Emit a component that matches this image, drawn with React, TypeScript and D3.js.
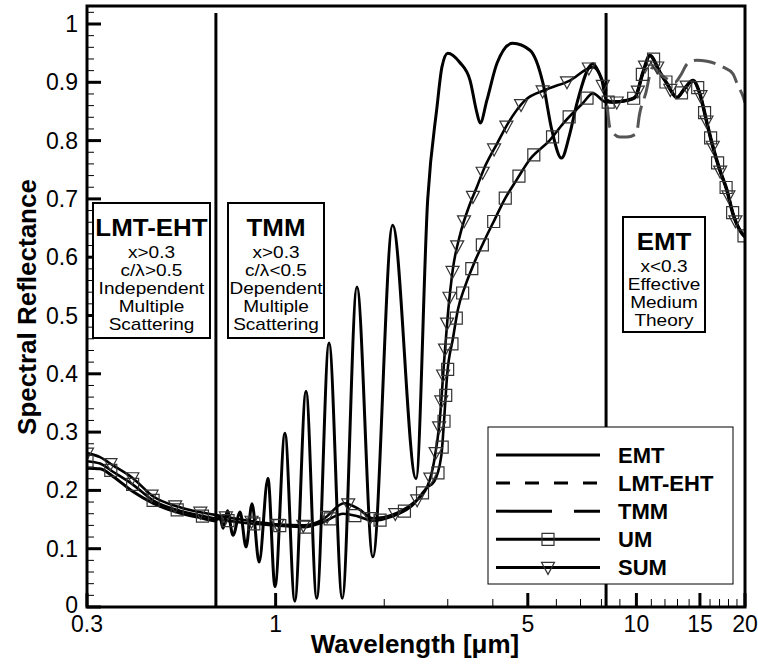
import React, { useEffect, useRef } from "react";
import * as d3 from "d3";

const W = 758;
const H = 668;

// axis ticks
const xMajorTicks = [0.3, 1, 5, 10, 15, 20];
const xMajorLabels = ["0.3", "1", "5", "10", "15", "20"];
const xMinorTicks = [2, 3, 4, 6, 7, 8, 9, 11, 12, 13, 14, 16, 17, 18, 19];
const yMajorTicks = [0, 0.1, 0.2, 0.3, 0.4, 0.5, 0.6, 0.7, 0.8, 0.9, 1];
const yMajorLabels = ["0", "0.1", "0.2", "0.3", "0.4", "0.5", "0.6", "0.7", "0.8", "0.9", "1"];
const yMinorTicks = d3.range(0, 51).map((i) => i * 0.02).filter((v) => Math.abs(v * 10 - Math.round(v * 10)) > 1e-6).concat([1.02]);

// regime boundaries (wavelength, um)
const regimeBounds = [0.683, 8.24];

// TMM (oscillating)
const tmmWl = [0.3, 0.326, 0.354, 0.402, 0.457, 0.543, 0.62, 0.68, 0.70, 0.715, 0.735, 0.762, 0.797, 0.828, 0.86, 0.9, 0.952, 0.996, 1.061, 1.13, 1.214, 1.3, 1.406, 1.53, 1.68, 1.86, 2.11, 2.45, 2.64, 2.8, 2.89, 3.0, 3.24, 3.46, 3.6, 3.69, 3.85, 4.11, 4.54, 5.07, 5.51, 5.83, 6.2, 6.54, 6.84, 7.58, 7.9, 8.24];
const tmmR = [0.238, 0.237, 0.224, 0.198, 0.178, 0.161, 0.153, 0.148, 0.155, 0.135, 0.165, 0.123, 0.163, 0.103, 0.177, 0.077, 0.221, 0.035, 0.298, 0.01, 0.37, 0.015, 0.453, 0.015, 0.549, 0.086, 0.655, 0.22, 0.70, 0.857, 0.926, 0.95, 0.934, 0.903, 0.852, 0.83, 0.869, 0.933, 0.967, 0.955, 0.898, 0.818, 0.77, 0.812, 0.864, 0.932, 0.915, 0.885];

// EMT (long-wavelength region)
const emtWl = [8.24, 8.61, 9.41, 9.91, 10.43, 10.9, 11.62, 12.15, 12.95, 13.63, 14.35, 15.0, 15.69, 16.3, 17.04, 17.82, 18.51, 19.6, 20];
const emtR = [0.869, 0.866, 0.869, 0.874, 0.917, 0.946, 0.917, 0.898, 0.874, 0.89, 0.903, 0.88, 0.83, 0.789, 0.749, 0.715, 0.675, 0.641, 0.635];

// LMT-EHT (gray dashed, long-wavelength region)
const lmtWl = [8.3, 8.45, 9.0, 9.41, 10.0, 10.2, 10.6, 11.1, 11.6, 12.4, 12.8, 13.2, 13.9, 14.7, 15.7, 17.4, 18.5, 19.1, 19.8, 20];
const lmtR = [0.86, 0.822, 0.806, 0.806, 0.812, 0.845, 0.88, 0.926, 0.915, 0.903, 0.9, 0.91, 0.933, 0.938, 0.936, 0.926, 0.915, 0.895, 0.874, 0.865];

// UM (squares)
const umWl = [0.3, 0.326, 0.354, 0.402, 0.457, 0.543, 0.68, 0.8, 1.0, 1.2, 1.35, 1.54, 1.7, 1.86, 2.1, 2.4, 2.63, 2.75, 2.88, 2.93, 2.99, 3.1, 3.2, 3.35, 3.55, 3.8, 4.05, 4.32, 4.67, 5.07, 5.74, 6.28, 7.1, 7.58, 8.24, 8.61, 9.41, 9.91, 10.43, 10.9, 11.62, 12.15, 12.95, 13.63, 14.35, 15.0, 15.69, 16.3, 17.04, 17.82, 18.51, 19.6, 20];
const umR = [0.25, 0.246, 0.232, 0.21, 0.183, 0.165, 0.152, 0.145, 0.14, 0.137, 0.145, 0.16, 0.155, 0.148, 0.155, 0.175, 0.205, 0.215, 0.26, 0.32, 0.40, 0.46, 0.51, 0.55, 0.59, 0.63, 0.665, 0.70, 0.734, 0.768, 0.80, 0.83, 0.864, 0.881, 0.866, 0.866, 0.869, 0.874, 0.917, 0.946, 0.917, 0.898, 0.874, 0.89, 0.903, 0.88, 0.83, 0.789, 0.749, 0.715, 0.675, 0.641, 0.635];

// SUM (triangles)
const sumWl = [0.3, 0.326, 0.354, 0.402, 0.457, 0.543, 0.68, 0.8, 1.0, 1.2, 1.35, 1.55, 1.7, 1.86, 2.1, 2.4, 2.63, 2.75, 2.85, 2.93, 3.0, 3.1, 3.25, 3.45, 3.61, 3.82, 4.11, 4.41, 4.91, 5.65, 6.54, 7.58, 8.0, 8.24, 8.61, 9.41, 9.91, 10.43, 10.9, 11.62, 12.15, 12.95, 13.63, 14.35, 15.0, 15.69, 16.3, 17.04, 17.82, 18.51, 19.6, 20];
const sumR = [0.264, 0.257, 0.243, 0.221, 0.19, 0.171, 0.158, 0.15, 0.142, 0.14, 0.15, 0.178, 0.168, 0.152, 0.158, 0.178, 0.206, 0.25, 0.32, 0.42, 0.5, 0.58, 0.64, 0.69, 0.72, 0.758, 0.795, 0.83, 0.869, 0.888, 0.903, 0.926, 0.905, 0.87, 0.866, 0.869, 0.874, 0.917, 0.946, 0.917, 0.898, 0.874, 0.89, 0.903, 0.88, 0.83, 0.789, 0.749, 0.715, 0.675, 0.641, 0.635];

const legendNames = ["EMT", "LMT-EHT", "TMM", "UM", "SUM"];

const boxLMT = ["x>0.3", "c/\u03bb>0.5", "Independent", "Multiple", "Scattering"];
const boxTMM = ["x>0.3", "c/\u03bb<0.5", "Dependent", "Multiple", "Scattering"];
const boxEMT = ["x<0.3", "Effective", "Medium", "Theory"];

const FONT = "'Liberation Sans', Arial, Helvetica, sans-serif";

function zip(a: number[], b: number[]): [number, number][] {
  return a.map((v, i) => [v, b[i]] as [number, number]);
}

export default function App() {
  const ref = useRef<SVGSVGElement>(null);

  useEffect(() => {
    const svg = d3.select(ref.current);
    svg.selectAll("*").remove();

    const L = 87, R = 745, T = 6, B = 607;
    const x = d3.scaleLog().domain([0.3, 20]).range([L, R]);
    const y = d3.scaleLinear().domain([0, 1]).range([B, 24]);

    svg.append("rect").attr("width", W).attr("height", H).attr("fill", "#fff");

    svg.append("defs").append("clipPath").attr("id", "plotclip")
      .append("rect").attr("x", L).attr("y", T).attr("width", R - L).attr("height", B - T);

    // ticks
    const g = svg.append("g");
    g.selectAll(".ymaj").data(yMajorTicks).enter().append("line")
      .attr("x1", L).attr("x2", L + 14).attr("y1", (d) => y(d)).attr("y2", (d) => y(d))
      .attr("stroke", "#000").attr("stroke-width", 3);
    g.selectAll(".ymin").data(yMinorTicks).enter().append("line")
      .attr("x1", L).attr("x2", L + 7).attr("y1", (d) => y(d)).attr("y2", (d) => y(d))
      .attr("stroke", "#000").attr("stroke-width", 1);
    g.selectAll(".xmaj").data(xMajorTicks).enter().append("line")
      .attr("x1", (d) => x(d)).attr("x2", (d) => x(d)).attr("y1", B).attr("y2", B - 14)
      .attr("stroke", "#000").attr("stroke-width", 3);
    g.selectAll(".xmin").data(xMinorTicks).enter().append("line")
      .attr("x1", (d) => x(d)).attr("x2", (d) => x(d)).attr("y1", B).attr("y2", B - 8)
      .attr("stroke", "#000").attr("stroke-width", 1);

    // tick labels
    g.selectAll(".ylab").data(yMajorTicks).enter().append("text")
      .attr("x", 78).attr("y", (d) => y(d) - (d === 0 ? 2 : 0)).attr("dy", "0.35em")
      .attr("text-anchor", "end").attr("font-family", FONT).attr("font-size", 23)
      .text((d, i) => yMajorLabels[i]);
    g.selectAll(".xlab").data(xMajorTicks).enter().append("text")
      .attr("x", (d) => x(d)).attr("y", 632)
      .attr("text-anchor", "middle").attr("font-family", FONT).attr("font-size", 23)
      .text((d, i) => xMajorLabels[i]);

    // axis titles
    svg.append("text").attr("x", 415).attr("y", 653).attr("text-anchor", "middle")
      .attr("font-family", FONT).attr("font-size", 26).attr("font-weight", "bold")
      .text("Wavelength [\u03bcm]");
    svg.append("text").attr("transform", "translate(36,307) rotate(-90)").attr("text-anchor", "middle")
      .attr("font-family", FONT).attr("font-size", 26).attr("font-weight", "bold")
      .text("Spectral Reflectance");

    // regime lines
    svg.selectAll(".reg").data(regimeBounds).enter().append("line")
      .attr("x1", (d) => x(d)).attr("x2", (d) => x(d)).attr("y1", 13).attr("y2", B)
      .attr("stroke", "#000").attr("stroke-width", 3);

    // text boxes
    const drawBox = (bx: number, by: number, bw: number, bh: number, title: string, lines: string[], titleY: number, firstY: number) => {
      const bg = svg.append("g");
      bg.append("rect").attr("x", bx).attr("y", by).attr("width", bw).attr("height", bh)
        .attr("fill", "#fff").attr("stroke", "#000").attr("stroke-width", 2);
      const cx = bx + bw / 2;
      bg.append("text").attr("transform", `translate(${cx},${titleY}) scale(1.08,1)`)
        .attr("text-anchor", "middle").attr("font-family", FONT).attr("font-size", 24)
        .attr("font-weight", "bold").text(title);
      bg.selectAll(".ln").data(lines).enter().append("text")
        .attr("transform", (d, i) => `translate(${cx},${firstY + i * 18}) scale(1.12,1)`)
        .attr("text-anchor", "middle").attr("font-family", FONT).attr("font-size", 17)
        .text((d) => d);
    };
    drawBox(93, 203, 117, 135, "LMT-EHT", boxLMT, 236, 258);
    drawBox(228, 203, 96, 135, "TMM", boxTMM, 236, 258);
    drawBox(623, 217, 82, 115, "EMT", boxEMT, 250, 272);

    // curves
    const line = d3.line<[number, number]>().x((d) => x(d[0])).y((d) => y(d[1])).curve(d3.curveMonotoneX);
    const cg = svg.append("g").attr("clip-path", "url(#plotclip)");

    cg.append("path").attr("d", line(zip(tmmWl, tmmR))).attr("fill", "none")
      .attr("stroke", "#000").attr("stroke-width", 3);
    const umPath = cg.append("path").attr("d", line(zip(umWl, umR))).attr("fill", "none")
      .attr("stroke", "#000").attr("stroke-width", 2.6);
    const sumPath = cg.append("path").attr("d", line(zip(sumWl, sumR))).attr("fill", "none")
      .attr("stroke", "#000").attr("stroke-width", 2.6);
    cg.append("path").attr("d", line(zip(emtWl, emtR))).attr("fill", "none")
      .attr("stroke", "#000").attr("stroke-width", 3.5);
    cg.append("path").attr("d", line(zip(lmtWl, lmtR))).attr("fill", "none")
      .attr("stroke", "#555").attr("stroke-width", 3).attr("stroke-dasharray", "22 8");

    const squarePath = "M-6,-6H6V6H-6Z";
    const triPath = "M-6.5,-5H6.5L0,7Z";
    const placeMarkers = (p: any, shape: string) => {
      const node = p.node() as SVGPathElement;
      const total = node.getTotalLength();
      const pts: { x: number; y: number }[] = [];
      for (let s = 0; s <= total; s += 26) {
        const pt = node.getPointAtLength(s);
        pts.push({ x: pt.x, y: pt.y });
      }
      cg.selectAll(null).data(pts).enter().append("path")
        .attr("d", shape).attr("transform", (d) => `translate(${d.x},${d.y})`)
        .attr("fill", "none").attr("stroke", "#333").attr("stroke-width", 1.2);
    };
    placeMarkers(umPath, squarePath);
    placeMarkers(sumPath, triPath);

    // frame
    svg.append("rect").attr("x", L).attr("y", T).attr("width", R - L).attr("height", B - T)
      .attr("fill", "none").attr("stroke", "#000").attr("stroke-width", 3);

    // legend
    const lg = svg.append("g");
    lg.append("rect").attr("x", 488).attr("y", 427).attr("width", 245).attr("height", 157)
      .attr("fill", "#fff").attr("stroke", "#000").attr("stroke-width", 1);
    const dashes = [null, "14 15", "56 22", null, null];
    legendNames.forEach((name, i) => {
      const ly = 455 + i * 28.1;
      lg.append("line").attr("x1", 496).attr("x2", 600).attr("y1", ly).attr("y2", ly)
        .attr("stroke", "#000").attr("stroke-width", 3)
        .attr("stroke-dasharray", dashes[i] ?? null);
      if (i === 3) lg.append("path").attr("d", squarePath).attr("transform", `translate(548,${ly})`)
        .attr("fill", "none").attr("stroke", "#333").attr("stroke-width", 1.2);
      if (i === 4) lg.append("path").attr("d", triPath).attr("transform", `translate(548,${ly})`)
        .attr("fill", "none").attr("stroke", "#333").attr("stroke-width", 1.2);
      lg.append("text").attr("x", 618).attr("y", ly + 8).attr("font-family", FONT)
        .attr("font-size", 22).attr("font-weight", "bold").text(name);
    });
  }, []);

  return (
    <svg ref={ref} width={W} height={H} style={{ position: "absolute", left: 0, top: 0, background: "#fff" }} />
  );
}
